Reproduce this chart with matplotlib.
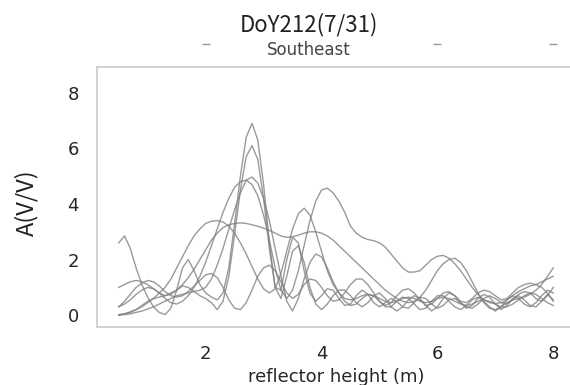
import matplotlib
matplotlib.use("Agg")
import matplotlib.pyplot as plt
import matplotlib.transforms as mtransforms
import numpy as np

# reflector heights (m), 0.5 .. 8.0 every 0.1
heights = np.round(np.arange(0.5, 8.05, 0.1), 1)

amp1 = [2.6, 2.85, 2.4, 1.7, 1.1, 0.65, 0.3, 0.1, 0.02, 0.25,
        0.9, 1.7, 2.0, 1.6, 1.1, 0.8, 0.65, 0.55, 0.8, 1.7,
        3.3, 5.0, 6.4, 6.9, 6.3, 4.7, 2.6, 1.0, 0.9, 2.0,
        2.8, 2.6, 1.6, 0.8, 0.5, 0.7, 0.95, 0.9, 0.6, 0.35,
        0.4, 0.7, 0.9, 0.75, 0.45, 0.3, 0.45, 0.6, 0.5, 0.3,
        0.25, 0.45, 0.65, 0.6, 0.4, 0.25, 0.35, 0.55, 0.6, 0.45,
        0.3, 0.25, 0.4, 0.6, 0.7, 0.6, 0.45, 0.4, 0.55, 0.75,
        0.85, 0.8, 0.6, 0.5, 0.7, 1.0]
amp2 = [0.02, 0.05, 0.1, 0.2, 0.35, 0.5, 0.6, 0.65, 0.7, 0.8,
        0.9, 1.05, 1.0, 0.85, 0.7, 0.6, 0.45, 0.2, 0.5, 1.4,
        2.9, 4.5, 5.7, 6.1, 5.6, 4.2, 2.4, 1.0, 0.6, 1.4,
        2.3, 2.5, 1.9, 1.0, 0.4, 0.2, 0.4, 0.7, 0.9, 0.9,
        0.7, 0.45, 0.3, 0.45, 0.7, 0.8, 0.6, 0.3, 0.15, 0.3,
        0.55, 0.7, 0.6, 0.35, 0.15, 0.3, 0.6, 0.8, 0.7, 0.45,
        0.25, 0.35, 0.6, 0.75, 0.65, 0.4, 0.2, 0.35, 0.6, 0.7,
        0.55, 0.35, 0.3, 0.5, 0.75, 0.55]
amp3 = [0.0, 0.02, 0.05, 0.1, 0.15, 0.22, 0.3, 0.4, 0.5, 0.6,
        0.7, 0.75, 0.8, 0.85, 0.9, 1.0, 1.3, 1.8, 2.4, 3.1,
        3.8, 4.4, 4.85, 4.97, 4.75, 4.2, 3.4, 2.4, 1.4, 0.5,
        0.15, 0.6, 1.3, 1.9, 2.2, 2.1, 1.7, 1.2, 0.8, 0.5,
        0.35, 0.4, 0.6, 0.75, 0.7, 0.5, 0.3, 0.3, 0.5, 0.65,
        0.6, 0.4, 0.2, 0.25, 0.5, 0.7, 0.7, 0.5, 0.3, 0.2,
        0.35, 0.55, 0.65, 0.5, 0.3, 0.15, 0.3, 0.55, 0.7, 0.6,
        0.4, 0.3, 0.45, 0.7, 0.9, 0.8]
amp4 = [0.3, 0.4, 0.55, 0.75, 0.9, 1.0, 0.95, 0.8, 0.6, 0.45,
        0.4, 0.5, 0.7, 1.0, 1.4, 1.9, 2.5, 3.1, 3.7, 4.2,
        4.6, 4.8, 4.86, 4.7, 4.3, 3.6, 2.7, 1.7, 0.9, 0.6,
        0.9, 1.6, 2.5, 3.4, 4.1, 4.5, 4.57, 4.4, 4.1, 3.7,
        3.2, 2.95, 2.8, 2.72, 2.68, 2.6, 2.45, 2.2, 1.95, 1.7,
        1.55, 1.55, 1.6, 1.8, 2.0, 2.12, 2.15, 2.05, 1.85, 1.6,
        1.3, 1.0, 0.75, 0.55, 0.45, 0.42, 0.45, 0.55, 0.7, 0.85,
        0.95, 1.05, 1.1, 1.2, 1.3, 1.4]
amp5 = [0.0, 0.05, 0.12, 0.2, 0.3, 0.45, 0.6, 0.8, 1.0, 1.3,
        1.7, 2.1, 2.5, 2.85, 3.1, 3.3, 3.38, 3.4, 3.35, 3.2,
        2.95, 2.6, 2.2, 1.75, 1.3, 0.95, 0.8, 0.95, 1.5, 2.3,
        3.1, 3.65, 3.85, 3.6, 3.0, 2.3, 1.6, 1.1, 0.8, 0.6,
        0.55, 0.6, 0.7, 0.75, 0.7, 0.6, 0.5, 0.45, 0.5, 0.6,
        0.65, 0.6, 0.5, 0.45, 0.5, 0.6, 0.65, 0.6, 0.5, 0.4,
        0.35, 0.4, 0.5, 0.55, 0.5, 0.4, 0.3, 0.3, 0.4, 0.55,
        0.7, 0.8, 0.75, 0.6, 0.45, 0.35]
amp6 = [1.0, 1.1, 1.2, 1.25, 1.2, 1.1, 0.95, 0.8, 0.7, 0.75,
        0.9, 1.1, 1.35, 1.65, 2.0, 2.35, 2.7, 2.95, 3.15, 3.25,
        3.3, 3.32, 3.3, 3.25, 3.2, 3.13, 3.05, 2.95, 2.85, 2.8,
        2.82, 2.88, 2.95, 3.0, 3.0, 2.95, 2.85, 2.7, 2.5, 2.3,
        2.1, 1.9, 1.7, 1.5, 1.3, 1.1, 0.9, 0.75, 0.6, 0.5,
        0.45, 0.5, 0.65, 0.9, 1.25, 1.6, 1.85, 2.0, 2.05, 1.9,
        1.6, 1.2, 0.8, 0.45, 0.25, 0.2, 0.3, 0.45, 0.55, 0.6,
        0.65, 0.75, 0.9, 1.1, 1.4, 1.7]
amp7 = [0.3, 0.5, 0.75, 1.0, 1.15, 1.25, 1.2, 1.05, 0.85, 0.7,
        0.65, 0.7, 0.85, 1.05, 1.25, 1.45, 1.5, 1.35, 1.0, 0.55,
        0.25, 0.2, 0.45, 0.9, 1.4, 1.7, 1.8, 1.6, 1.2, 0.8,
        0.6, 0.75, 1.1, 1.3, 1.25, 1.0, 0.7, 0.5, 0.55, 0.8,
        1.1, 1.3, 1.3, 1.1, 0.8, 0.5, 0.35, 0.45, 0.7, 0.9,
        0.95, 0.8, 0.55, 0.35, 0.4, 0.6, 0.8, 0.85, 0.7, 0.5,
        0.45, 0.6, 0.8, 0.9, 0.85, 0.7, 0.55, 0.6, 0.8, 1.0,
        1.1, 1.15, 1.1, 1.0, 0.8, 0.5]

curves = [amp1, amp2, amp3, amp4, amp5, amp6, amp7]
xticks = [2, 4, 6, 8]
yticks = [0, 2, 4, 6, 8]
top_marks = [2, 6, 8]

cjk = ['Noto Sans CJK JP', 'DejaVu Sans']

fig = plt.figure(figsize=(5.7, 3.85), dpi=100)
ax = fig.add_axes([97/570, 58/385, 478/570, 260/385])

for amp in curves:
    ax.plot(heights, amp, color='0.5', lw=1.0, alpha=0.8)

ax.set_xlim(0.125, 8.375)
ax.set_ylim(-0.425, 8.925)
ax.set_xticks(xticks)
ax.set_yticks(yticks)
ax.tick_params(length=0, pad=13, labelsize=13, labelcolor='#262626')
for s in ax.spines.values():
    s.set_color('#cccccc')
    s.set_linewidth(1.25)

# small marks above the frame
trans = mtransforms.blended_transform_factory(ax.transData, ax.transAxes)
ax.plot(top_marks, [1.088] * len(top_marks), ls='none', marker='_',
        ms=6, mew=1, color='#999999', transform=trans, clip_on=False)

fig.text(0.542, 0.935, 'DoY212(7/31)', ha='center', va='center',
         fontsize=16, family=cjk, color='#222222')
fig.text(0.542, 0.870, 'Southeast', ha='center', va='center',
         fontsize=12, color='#444444')
fig.text(27/570, 1 - 203/385, 'A(V/V)', ha='center', va='center',
         rotation=90, fontsize=17, family=cjk, color='#222222')
fig.text(336/570, 1 - 377/385, 'reflector height (m)', ha='center',
         va='center', fontsize=13, color='#262626')

fig.savefig('out.png', dpi=100)
